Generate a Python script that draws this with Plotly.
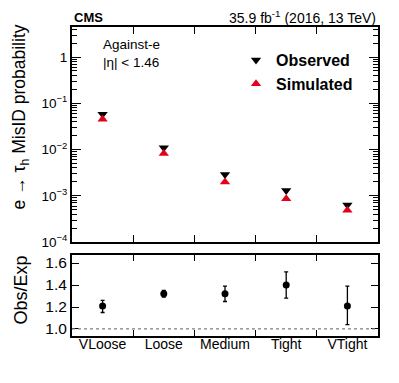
import plotly.graph_objects as go

wps = ["VLoose", "Loose", "Medium", "Tight", "VTight"]
observed = [0.058, 0.011, 0.0029, 0.0013, 0.00063]
observed_err = [0.002, 0.0004, 0.0001, 0.00006, 0.00004]
simulated = [0.045, 0.0082, 0.0020, 0.00086, 0.00049]
simulated_err = [0.0015, 0.0003, 0.00008, 0.00004, 0.00003]
ratio = [1.21, 1.32, 1.32, 1.40, 1.21]
ratio_up = [0.05, 0.03, 0.07, 0.12, 0.18]
ratio_down = [0.06, 0.03, 0.07, 0.12, 0.17]

log_ticks = [1e-4, 1e-3, 1e-2, 1e-1, 1]
log_labels = ["10<sup>−4</sup>", "10<sup>−3</sup>", "10<sup>−2</sup>", "10<sup>−1</sup>", "1"]
minor_ticks = [m * 10 ** e for e in range(-4, 1) for m in range(2, 10)]

red = "#e3001b"
font = "Liberation Sans, Arial, sans-serif"

fig = go.Figure()
fig.add_trace(go.Scatter(
    x=wps, y=observed, mode="markers", name="Observed",
    marker={"symbol": "triangle-down", "color": "black", "size": 9},
    error_y={"type": "data", "array": observed_err, "color": "black",
             "thickness": 1.3, "width": 0},
    xaxis="x", yaxis="y",
))
fig.add_trace(go.Scatter(
    x=wps, y=simulated, mode="markers", name="Simulated",
    marker={"symbol": "triangle-up", "color": red, "size": 9},
    error_y={"type": "data", "array": simulated_err, "color": red,
             "thickness": 1.3, "width": 0},
    xaxis="x", yaxis="y",
))
fig.add_trace(go.Scatter(
    x=wps, y=ratio, mode="markers", showlegend=False,
    marker={"symbol": "circle", "color": "black", "size": 7},
    error_y={"type": "data", "array": ratio_up, "arrayminus": ratio_down,
             "color": "black", "thickness": 1.3, "width": 2},
    xaxis="x2", yaxis="y2",
))

axis_common = dict(showline=True, linecolor="black", linewidth=2, mirror="ticks",
                   ticks="inside", tickcolor="black", showgrid=False, zeroline=False,
                   automargin=False)

fig.update_layout(
    width=399, height=383,
    margin={"l": 72, "r": 21, "t": 27, "b": 47},
    paper_bgcolor="white", plot_bgcolor="white",
    font={"family": font, "color": "black", "size": 13},
    xaxis=dict(axis_common, domain=[0, 1], anchor="y", type="category",
               tickson="boundaries", ticklen=7, showticklabels=False,
               range=[-0.5, 4.5], matches="x2"),
    yaxis=dict(axis_common, domain=[0.304, 1], anchor="x", type="log",
               range=[-4, 0.65], tickvals=log_ticks, ticktext=log_labels,
               ticklen=9, tickfont={"size": 13.5},
               minor={"tickvals": minor_ticks, "ticks": "inside", "ticklen": 5,
                      "tickcolor": "black", "showgrid": False}),
    xaxis2=dict(axis_common, domain=[0, 1], anchor="y2", type="category",
                tickson="boundaries", ticklen=6, range=[-0.5, 4.5],
                tickfont={"size": 14}, ticklabelstandoff=-6),
    yaxis2=dict(axis_common, domain=[0, 0.262], anchor="x2",
                range=[0.936, 1.673], tickvals=[1.0, 1.2, 1.4, 1.6],
                ticktext=["1.0", "1.2", "1.4", "1.6"], ticklen=7,
                tickfont={"size": 15.5}),
    legend={"x": 0.536, "y": 0.948, "xanchor": "left", "yanchor": "top",
            "font": {"size": 16, "family": font, "weight": "bold"},
            "bgcolor": "rgba(0,0,0,0)", "tracegroupgap": 6, "itemwidth": 30},
    shapes=[{"type": "line", "xref": "x2 domain", "yref": "y2",
             "x0": 0, "x1": 1, "y0": 1.0, "y1": 1.0,
             "line": {"color": "gray", "width": 1.2, "dash": "dot"}}],
    annotations=[
        {"text": "<b>CMS</b>", "xref": "paper", "yref": "paper", "x": 0, "y": 1,
         "xanchor": "left", "yanchor": "bottom", "showarrow": False,
         "font": {"size": 13}, "yshift": 0},
        {"text": "35.9 fb<sup>-1</sup> (2016, 13 TeV)", "xref": "paper", "yref": "paper",
         "x": 1, "y": 1, "xanchor": "right", "yanchor": "bottom", "showarrow": False,
         "font": {"size": 14}, "yshift": -1},
        {"text": "Against-e<br>|η| < 1.46", "xref": "paper", "yref": "paper",
         "x": 0.096, "y": 0.974, "xanchor": "left", "yanchor": "top", "align": "left",
         "showarrow": False, "font": {"size": 13.5}},
        {"text": "e → τ<sub>h</sub> MisID probability", "xref": "paper", "yref": "paper",
         "x": -0.167, "y": 1, "xanchor": "center", "yanchor": "top", "textangle": -90,
         "showarrow": False, "font": {"size": 17.5}, "yshift": 5},
        {"text": "Obs/Exp", "xref": "paper", "yref": "y2 domain",
         "x": -0.167, "y": 1, "xanchor": "center", "yanchor": "top", "textangle": -90,
         "showarrow": False, "font": {"size": 18}, "yshift": 2},
    ],
)

fig.write_html("out.html", config={"displayModeBar": False},
               post_script="document.body.style.margin = '0';")
